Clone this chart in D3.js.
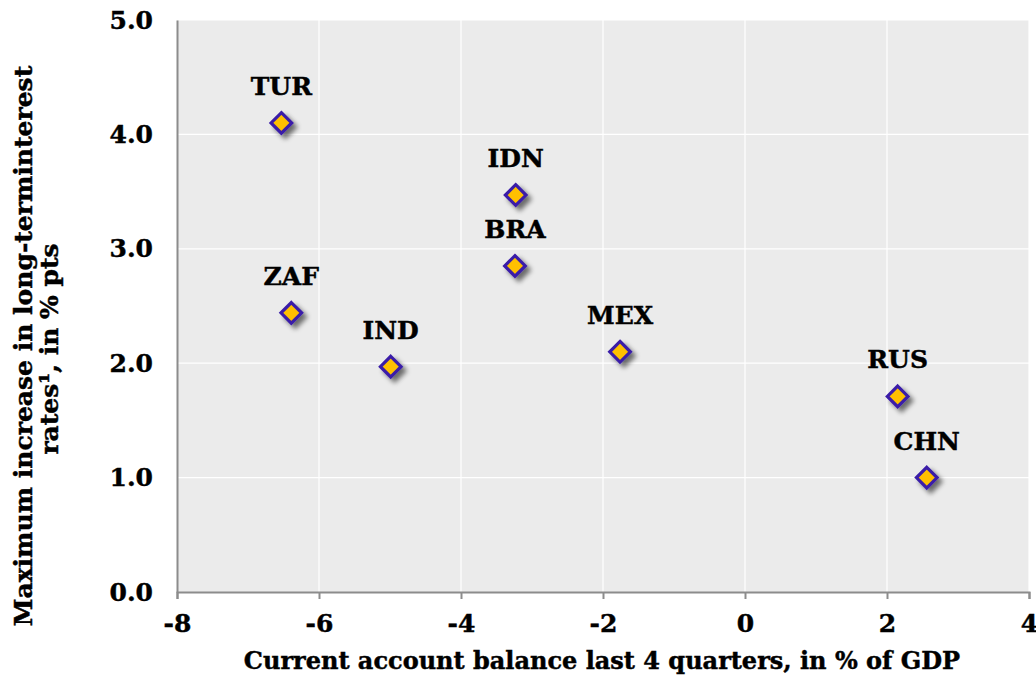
<!DOCTYPE html>
<html><head><meta charset="utf-8">
<script src="https://cdn.jsdelivr.net/npm/d3@7"></script>
<style>body{margin:0;background:#fff}text{font-family:"DejaVu Serif",serif;font-weight:bold;stroke:#000;stroke-width:0.45px}</style>
</head><body>
<svg id="c" width="1036" height="677"></svg>
<script>
const countries = ["TUR","ZAF","IND","IDN","BRA","MEX","RUS","CHN"];
const currentAccount = [-6.53,-6.39,-4.99,-3.23,-3.24,-1.76,2.15,2.56];
const rateIncrease = [4.10,2.44,1.97,3.47,2.85,2.10,1.71,1.00];
const xTicks = [-8,-6,-4,-2,0,2,4];
const yTicks = [0,1,2,3,4,5];

const svg = d3.select("#c");
const x = d3.scaleLinear().domain([-8,4]).range([177,1029]);
const y = d3.scaleLinear().domain([0,5]).range([592,20]);

const defs = svg.append("defs");
const f = defs.append("filter").attr("id","sh").attr("x","-50%").attr("y","-50%").attr("width","200%").attr("height","200%");
f.append("feGaussianBlur").attr("in","SourceAlpha").attr("stdDeviation",2.4).attr("result","b");
f.append("feOffset").attr("in","b").attr("dx",4).attr("dy",4).attr("result","o");
f.append("feComponentTransfer").attr("in","o").attr("result","o2").append("feFuncA").attr("type","linear").attr("slope",0.55);
const m = f.append("feMerge"); m.append("feMergeNode").attr("in","o2"); m.append("feMergeNode").attr("in","SourceGraphic");

svg.append("rect").attr("x",x(-8)).attr("y",y(5)).attr("width",x(4)-x(-8)).attr("height",y(0)-y(5)).attr("fill","#ebebeb");

svg.append("g").selectAll("line").data(xTicks.filter(d=>d>-8)).join("line")
  .attr("x1",d=>x(d)).attr("x2",d=>x(d)).attr("y1",y(5)).attr("y2",y(0)).attr("stroke","#fff").attr("stroke-width",1.2);
svg.append("g").selectAll("line").data(yTicks.filter(d=>d>0)).join("line")
  .attr("x1",x(-8)).attr("x2",x(4)).attr("y1",d=>y(d)).attr("y2",d=>y(d)).attr("stroke","#fff").attr("stroke-width",1.2);

const xa = svg.append("g").attr("transform",`translate(0,${y(0)})`)
  .call(d3.axisBottom(x).tickValues(xTicks).tickSize(7).tickPadding(15).tickFormat(d3.format("d")));
const ya = svg.append("g").attr("transform",`translate(${x(-8)},0)`)
  .call(d3.axisLeft(y).tickValues(yTicks).tickSize(0).tickPadding(24).tickFormat(d3.format(".1f")));
[xa,ya].forEach(a=>{
  a.select(".domain").attr("stroke","#8c8c8c").attr("stroke-width",2);
  a.selectAll(".tick line").attr("stroke","#8c8c8c").attr("stroke-width",2);
  a.selectAll(".tick text").attr("fill","#000").style("font-size","25px").style("font-family","'DejaVu Serif',serif").style("font-weight","bold");
});
xa.selectAll(".tick text").text(d=>d<0?"-"+Math.abs(d):d);
ya.selectAll(".tick text").attr("dy","0.32em");

const pts = countries.map((c,i)=>({c,x:currentAccount[i],y:rateIncrease[i]}));
svg.append("g").selectAll("path").data(pts).join("path")
  .attr("d",d3.symbol(d3.symbolDiamond2,270))
  .attr("transform",d=>`translate(${x(d.x)},${y(d.y)})`)
  .attr("fill","#ffc000").attr("stroke","#3a1fa8").attr("stroke-width",3.2).attr("filter","url(#sh)");

svg.append("g").selectAll("text").data(pts).join("text")
  .attr("x",d=>x(d.x)).attr("y",d=>y(d.y)-28).attr("text-anchor","middle")
  .style("font-size","25px").text(d=>d.c);

svg.append("text").attr("x",(x(-8)+x(4))/2 - 1).attr("y",669).attr("text-anchor","middle").style("font-size","24px")
  .text("Current account balance last 4 quarters, in % of GDP");
const yt = svg.append("text").attr("transform",`translate(32,346) rotate(-90)`).attr("text-anchor","middle").style("font-size","25px");
yt.append("tspan").attr("x",0).attr("dy",0).text("Maximum increase in long-terminterest");
yt.append("tspan").attr("x",-3).attr("dy",26).text("rates¹, in % pts");
</script>
</body></html>
